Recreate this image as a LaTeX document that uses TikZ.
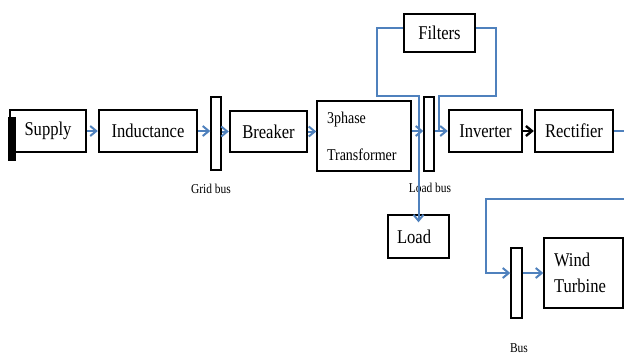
\documentclass[tikz,border=0pt]{standalone}
\usepackage{fontspec}
\setmainfont[FakeStretch=0.85]{Liberation Serif}
\usetikzlibrary{arrows.meta,calc}
\definecolor{wireblue}{RGB}{79,129,189}
\tikzset{
  blk/.style={draw,line width=2.4pt,inner sep=0pt,font=\fontsize{19.5}{24}\selectfont},
  thinblk/.style={draw,line width=1.4pt,inner sep=0pt},
  busbar/.style={draw,line width=1.4pt,inner sep=0pt},
  wire/.style={wireblue,line width=2pt},
  flow/.style={wire,-{Straight Barb[length=6pt,width=10pt,line width=2pt]}},
  buslabel/.style={font=\fontsize{13.5}{15}\selectfont}
}
\begin{document}
\begin{tikzpicture}[x=1pt,y=-1pt]
\useasboundingbox (0,0) rectangle (624,354);

% main line
\node[blk,minimum width=76pt,minimum height=42pt] (supply) at (48,131) {Supply};
\fill (8,117) rectangle (16,161);
\node[blk,minimum width=98pt,minimum height=42pt] (induct) at (148,131) {Inductance};
\node[busbar,minimum width=10pt,minimum height=73pt] (gridbus) at (216,133.5) {};
\node[blk,minimum width=77pt,minimum height=41pt] (breaker) at (268.5,131.5) {Breaker};
\node[thinblk,minimum height=70pt,text width=74pt,inner xsep=10pt,align=left,
      font=\fontsize{16.5}{37}\selectfont] (trafo) at (364,136) {3phase\\Transformer};
\node[busbar,minimum width=10pt,minimum height=74pt] (loadbus) at (429,134) {};
\node[blk,minimum width=73pt,minimum height=42pt] (inverter) at (485.5,131) {Inverter};
\node[blk,minimum width=78pt,minimum height=42pt] (rectifier) at (574,131) {Rectifier};
\node[blk,minimum width=71pt,minimum height=38pt] (filters) at (439.5,33) {Filters};
\node[thinblk,minimum height=43pt,text width=43pt,inner xsep=9pt,align=left,
      font=\fontsize{19.5}{24}\selectfont] (load) at (418.5,236.5) {Load};

% wind side
\node[busbar,minimum width=11pt,minimum height=70pt] (bus) at (516.5,283) {};
\node[thinblk,minimum height=70pt,text width=59pt,inner xsep=10pt,align=left,
      font=\fontsize{19.5}{26}\selectfont] (turbine) at (583.5,273) {Wind\\Turbine};

\node[buslabel] (gridlbl) at (211,189) {Grid bus};
\node[buslabel] (loadlbl) at (430,188) {Load bus};
\node[buslabel] (buslbl) at (519,348) {Bus};

\coordinate (outR) at (624,131);
\coordinate (feedin) at (624,199);

\draw[flow] (supply) -- (induct);
\draw[flow] (induct.east) -- (gridbus.west |- induct);
\draw[flow] (gridbus.east |- breaker) -- (breaker.west);
\draw[flow] (breaker.east) -- (trafo.west |- breaker);
\draw[flow] (trafo.east |- inverter) -- (loadbus.west |- inverter);
\draw[flow] (loadbus.east |- inverter) -- (inverter.west);
\draw[line width=2.4pt,-{Straight Barb[length=6pt,width=10pt,line width=2.4pt]}] (inverter) -- (rectifier);
\draw[wire] (rectifier.east) -- (outR);

% filter loop round the load bus
\draw[flow,shorten >=-8pt] ([yshift=5pt]filters.west) -| ([xshift=-26pt]filters.west |- loadbus.north) -| (load.north);
\draw[wire] ([yshift=5pt]filters.east) -| ([xshift=20pt]filters.east |- loadbus.north) -| ([xshift=4pt]loadbus.east |- inverter);

\draw[flow] (feedin) -| ([xshift=-24pt]bus.west |- turbine.west) -- (bus.west |- turbine.west);
\draw[flow] (bus.east |- turbine.west) -- (turbine.west);
\end{tikzpicture}
\end{document}
